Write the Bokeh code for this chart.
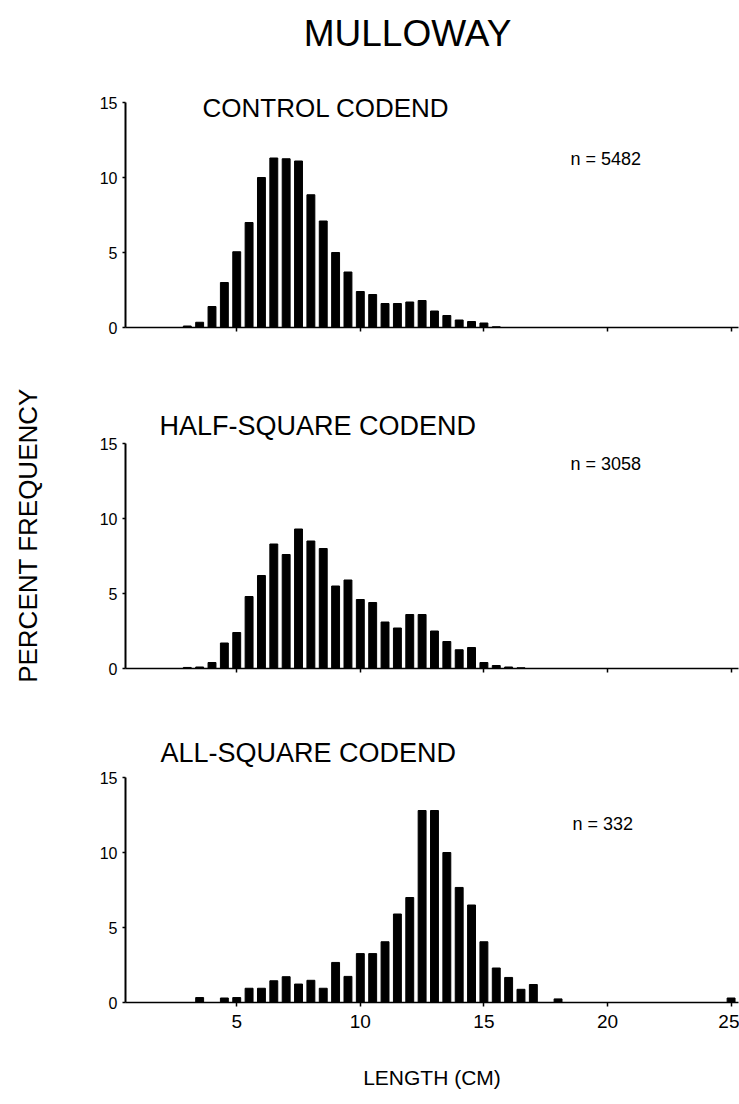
from bokeh.plotting import figure
from bokeh.layouts import column
from bokeh.models import Range1d, Label, FixedTicker
from bokeh.embed import file_html
from bokeh.resources import INLINE

# ---------------- data ----------------
control_len = [3.0, 3.5, 4.0, 4.5, 5.0, 5.5, 6.0, 6.5, 7.0, 7.5, 8.0, 8.5, 9.0,
               9.5, 10.0, 10.5, 11.0, 11.5, 12.0, 12.5, 13.0, 13.5, 14.0, 14.5,
               15.0, 15.5]
control_pct = [0.1, 0.35, 1.4, 3.0, 5.05, 7.0, 10.0, 11.3, 11.25, 11.1, 8.85,
               7.1, 5.0, 3.7, 2.4, 2.2, 1.6, 1.6, 1.7, 1.8, 1.1, 0.8, 0.5, 0.4,
               0.3, 0.05]

half_len = [3.0, 3.5, 4.0, 4.5, 5.0, 5.5, 6.0, 6.5, 7.0, 7.5, 8.0, 8.5, 9.0,
            9.5, 10.0, 10.5, 11.0, 11.5, 12.0, 12.5, 13.0, 13.5, 14.0, 14.5,
            15.0, 15.5, 16.0, 16.5]
half_pct = [0.07, 0.1, 0.4, 1.7, 2.4, 4.8, 6.2, 8.3, 7.6, 9.3, 8.5, 8.0, 5.5,
            5.9, 4.6, 4.4, 3.1, 2.7, 3.6, 3.6, 2.5, 1.8, 1.25, 1.4, 0.4, 0.2,
            0.1, 0.05]

all_len = [3.5, 4.5, 5.0, 5.5, 6.0, 6.5, 7.0, 7.5, 8.0, 8.5, 9.0, 9.5, 10.0,
           10.5, 11.0, 11.5, 12.0, 12.5, 13.0, 13.5, 14.0, 14.5, 15.0, 15.5,
           16.0, 16.5, 17.0, 18.0, 25.0]
all_pct = [0.33, 0.3, 0.33, 0.95, 0.95, 1.45, 1.72, 1.23, 1.48, 0.95, 2.67,
           1.74, 3.26, 3.26, 4.05, 5.9, 7.0, 12.8, 12.8, 10.0, 7.67, 6.5, 4.05,
           2.3, 1.67, 0.88, 1.2, 0.24, 0.3]

x_ticks = [5, 10, 15, 20, 25]
y_ticks = [0, 5, 10, 15]

main_title = "MULLOWAY"
panel_titles = ["CONTROL CODEND", "HALF-SQUARE CODEND", "ALL-SQUARE CODEND"]
n_labels = ["n = 5482", "n = 3058", "n = 332"]
y_label = "PERCENT FREQUENCY"
x_label = "LENGTH (CM)"

# ---------------- layout constants ----------------
FONT = "Liberation Sans"
X0, X1 = 0.5, 25.3
LEFT = 125
WIDTH = 739
FRAME_W = WIDTH - LEFT - 1
PX_PER_UNIT = 15.0   # vertical pixels per percent
Y_AXIS_MAX = 15


def dx(px):
    return X0 + (px - LEFT) * (X1 - X0) / FRAME_W


def make_panel(lengths, pct, top, frame_h, bottom, show_xlabels):
    y_end = frame_h / PX_PER_UNIT
    p = figure(width=WIDTH, height=top + frame_h + bottom,
               x_range=Range1d(X0, X1), y_range=Range1d(0, y_end),
               output_backend="svg", toolbar_location=None,
               min_border_left=LEFT, min_border_right=1,
               min_border_top=top, min_border_bottom=bottom)
    p.vbar(x=lengths, top=pct, width=0.32, color="black")
    p.xgrid.visible = False
    p.ygrid.visible = False
    p.outline_line_color = None
    p.background_fill_color = "white"
    p.border_fill_color = "white"

    xa = p.xaxis[0]
    xa.ticker = FixedTicker(ticks=x_ticks)
    xa.major_tick_in = 0
    xa.major_tick_out = 4
    xa.minor_tick_line_color = None
    xa.axis_line_width = 1.5
    xa.axis_line_color = "black"
    xa.major_tick_line_color = "black"
    xa.major_tick_line_width = 1.5
    if show_xlabels:
        xa.major_label_text_font = FONT
        xa.major_label_text_font_size = "19px"
        xa.major_label_text_color = "black"
        xa.major_label_standoff = 8
    else:
        xa.major_label_overrides = {t: "" for t in x_ticks}

    ya = p.yaxis[0]
    ya.ticker = FixedTicker(ticks=y_ticks)
    ya.bounds = (0, Y_AXIS_MAX)
    ya.major_tick_in = 0
    ya.major_tick_out = 3
    ya.minor_tick_line_color = None
    ya.axis_line_width = 2
    ya.axis_line_color = "black"
    ya.major_tick_line_color = "black"
    ya.major_tick_line_width = 1.5
    ya.major_label_text_font = FONT
    ya.major_label_text_font_size = "16px"
    ya.major_label_text_color = "black"
    ya.major_label_standoff = 5
    return p


def add_text(p, text, px, py, zero_py, size, align="left"):
    p.add_layout(Label(x=dx(px), y=(zero_py - py) / PX_PER_UNIT, text=text,
                       text_font=FONT, text_font_size=size,
                       text_color="black", text_align=align,
                       text_baseline="middle"))


# page-pixel y of the zero line of each panel
Z1, Z2, Z3 = 327, 668, 1002

p1 = make_panel(control_len, control_pct, 0, 327, 58, False)
p2 = make_panel(half_len, half_pct, 17, 266, 52, False)
p3 = make_panel(all_len, all_pct, 10, 272, 102, True)

add_text(p1, main_title, 407, 33, Z1, "37px", align="center")
add_text(p1, panel_titles[0], 202, 107, Z1, "26px")
add_text(p1, n_labels[0], 570, 158, Z1, "18px")

add_text(p2, panel_titles[1], 159, 425, Z2, "27px")
add_text(p2, n_labels[1], 570, 463, Z2, "18px")

add_text(p3, panel_titles[2], 160, 752, Z3, "27px")
add_text(p3, n_labels[2], 572, 823, Z3, "18px")

ya2 = p2.yaxis[0]
ya2.axis_label = y_label
ya2.axis_label_text_font = FONT
ya2.axis_label_text_font_size = "26px"
ya2.axis_label_text_font_style = "normal"
ya2.axis_label_text_color = "black"
ya2.axis_label_standoff = 54

xa3 = p3.xaxis[0]
xa3.axis_label = x_label
xa3.axis_label_text_font = FONT
xa3.axis_label_text_font_size = "21px"
xa3.axis_label_text_font_style = "normal"
xa3.axis_label_text_color = "black"
xa3.axis_label_standoff = 35

layout = column(p1, p2, p3, spacing=0)

open("out.html", "w").write(file_html(layout, INLINE))
